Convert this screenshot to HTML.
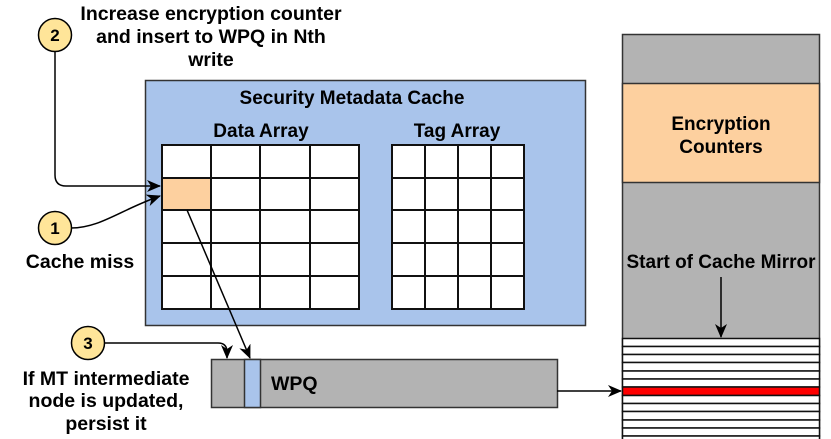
<!DOCTYPE html>
<html><head><style>body{margin:0;background:#fff}svg{display:block}text{font-family:"Liberation Sans",sans-serif;font-weight:bold;fill:#000}</style></head><body>
<svg width="831" height="439" viewBox="0 0 831 439">
<defs><marker id="a" markerWidth="14" markerHeight="12" refX="13" refY="6" orient="auto" markerUnits="userSpaceOnUse"><path d="M0,0 L14,6 L0,12 L4,6 z" fill="#000"/></marker></defs>
<text x="211" y="20" font-size="19.5" text-anchor="middle">Increase encryption counter</text>
<text x="211" y="43" font-size="19.5" text-anchor="middle">and insert to WPQ in Nth</text>
<text x="211" y="66" font-size="19.5" text-anchor="middle">write</text>
<rect x="145.5" y="80.5" width="440" height="245" fill="#a9c4eb" stroke="#333" stroke-width="1.5"/>
<text x="352" y="104" font-size="19" text-anchor="middle">Security Metadata Cache</text>
<text x="261" y="137" font-size="19" text-anchor="middle">Data Array</text>
<text x="457" y="137" font-size="19" text-anchor="middle">Tag Array</text>
<g stroke="#111" stroke-width="2" fill="#fff">
<rect x="162" y="145" width="197" height="164"/>
<rect x="162" y="178" width="49" height="32" fill="#fdd09f"/>
<path d="M211,145V309M260,145V309M310,145V309M162,178H359M162,210H359M162,243H359M162,276H359"/>
<rect x="392" y="145" width="132" height="164"/>
<path d="M425,145V309M458,145V309M491,145V309M392,178H524M392,210H524M392,243H524M392,276H524"/>
</g>
<g stroke="#000" stroke-width="1.5" fill="#ffe599">
<circle cx="55" cy="35" r="16.5"/><circle cx="55" cy="228" r="16.5"/><circle cx="88" cy="343" r="16.5"/>
</g>
<text x="55" y="41" font-size="17" text-anchor="middle">2</text>
<text x="55" y="234" font-size="17" text-anchor="middle">1</text>
<text x="88" y="349" font-size="17" text-anchor="middle">3</text>
<text x="80" y="268" font-size="19.5" text-anchor="middle">Cache miss</text>
<text x="106" y="385" font-size="19.5" text-anchor="middle">If MT intermediate</text>
<text x="106" y="407" font-size="19.5" text-anchor="middle">node is updated,</text>
<text x="106" y="430" font-size="19.5" text-anchor="middle">persist it</text>
<rect x="211.5" y="359.5" width="346" height="48" fill="#b3b3b3" stroke="#333" stroke-width="1.5"/>
<rect x="244.5" y="359.5" width="16" height="48" fill="#a9c4eb" stroke="#333" stroke-width="1.5"/>
<text x="271" y="390" font-size="19.5">WPQ</text>
<rect x="622.5" y="34.5" width="197" height="410" fill="#b3b3b3" stroke="#333" stroke-width="1.5"/>
<rect x="622.5" y="83.5" width="197" height="99" fill="#fdd09f" stroke="#333" stroke-width="1.5"/>
<text x="721" y="130" font-size="19" text-anchor="middle">Encryption</text>
<text x="721" y="153" font-size="19" text-anchor="middle">Counters</text>
<text x="721" y="268" font-size="19" text-anchor="middle">Start of Cache Mirror</text>
<g stroke="#111" stroke-width="1.5" fill="#fff">
<rect x="622.5" y="338.5" width="197" height="8"/><rect x="622.5" y="346.5" width="197" height="8"/>
<rect x="622.5" y="354.5" width="197" height="8"/><rect x="622.5" y="362.5" width="197" height="8.5"/>
<rect x="622.5" y="371" width="197" height="8"/><rect x="622.5" y="379" width="197" height="8"/>
<rect x="622.5" y="387" width="197" height="8.5" fill="#f00"/>
<rect x="622.5" y="395.5" width="197" height="8"/><rect x="622.5" y="403.5" width="197" height="8"/>
<rect x="622.5" y="411.5" width="197" height="8.5"/><rect x="622.5" y="420" width="197" height="8"/>
<rect x="622.5" y="428" width="197" height="8"/><rect x="622.5" y="436" width="197" height="8"/>
</g>
<g fill="none" stroke="#000" stroke-width="1.5">
<path d="M55,51 V175 Q55,186 66,186 H160" marker-end="url(#a)"/>
<path d="M71,228 C100,228 120,210 160,196" marker-end="url(#a)"/>
<path d="M187,210 L250,358" marker-end="url(#a)"/>
<path d="M104,343 H218 Q227,343 227,352 V358" marker-end="url(#a)"/>
<path d="M557,391 H621" marker-end="url(#a)"/>
<path d="M721,277 V337" marker-end="url(#a)"/>
</g>
</svg>
</body></html>
